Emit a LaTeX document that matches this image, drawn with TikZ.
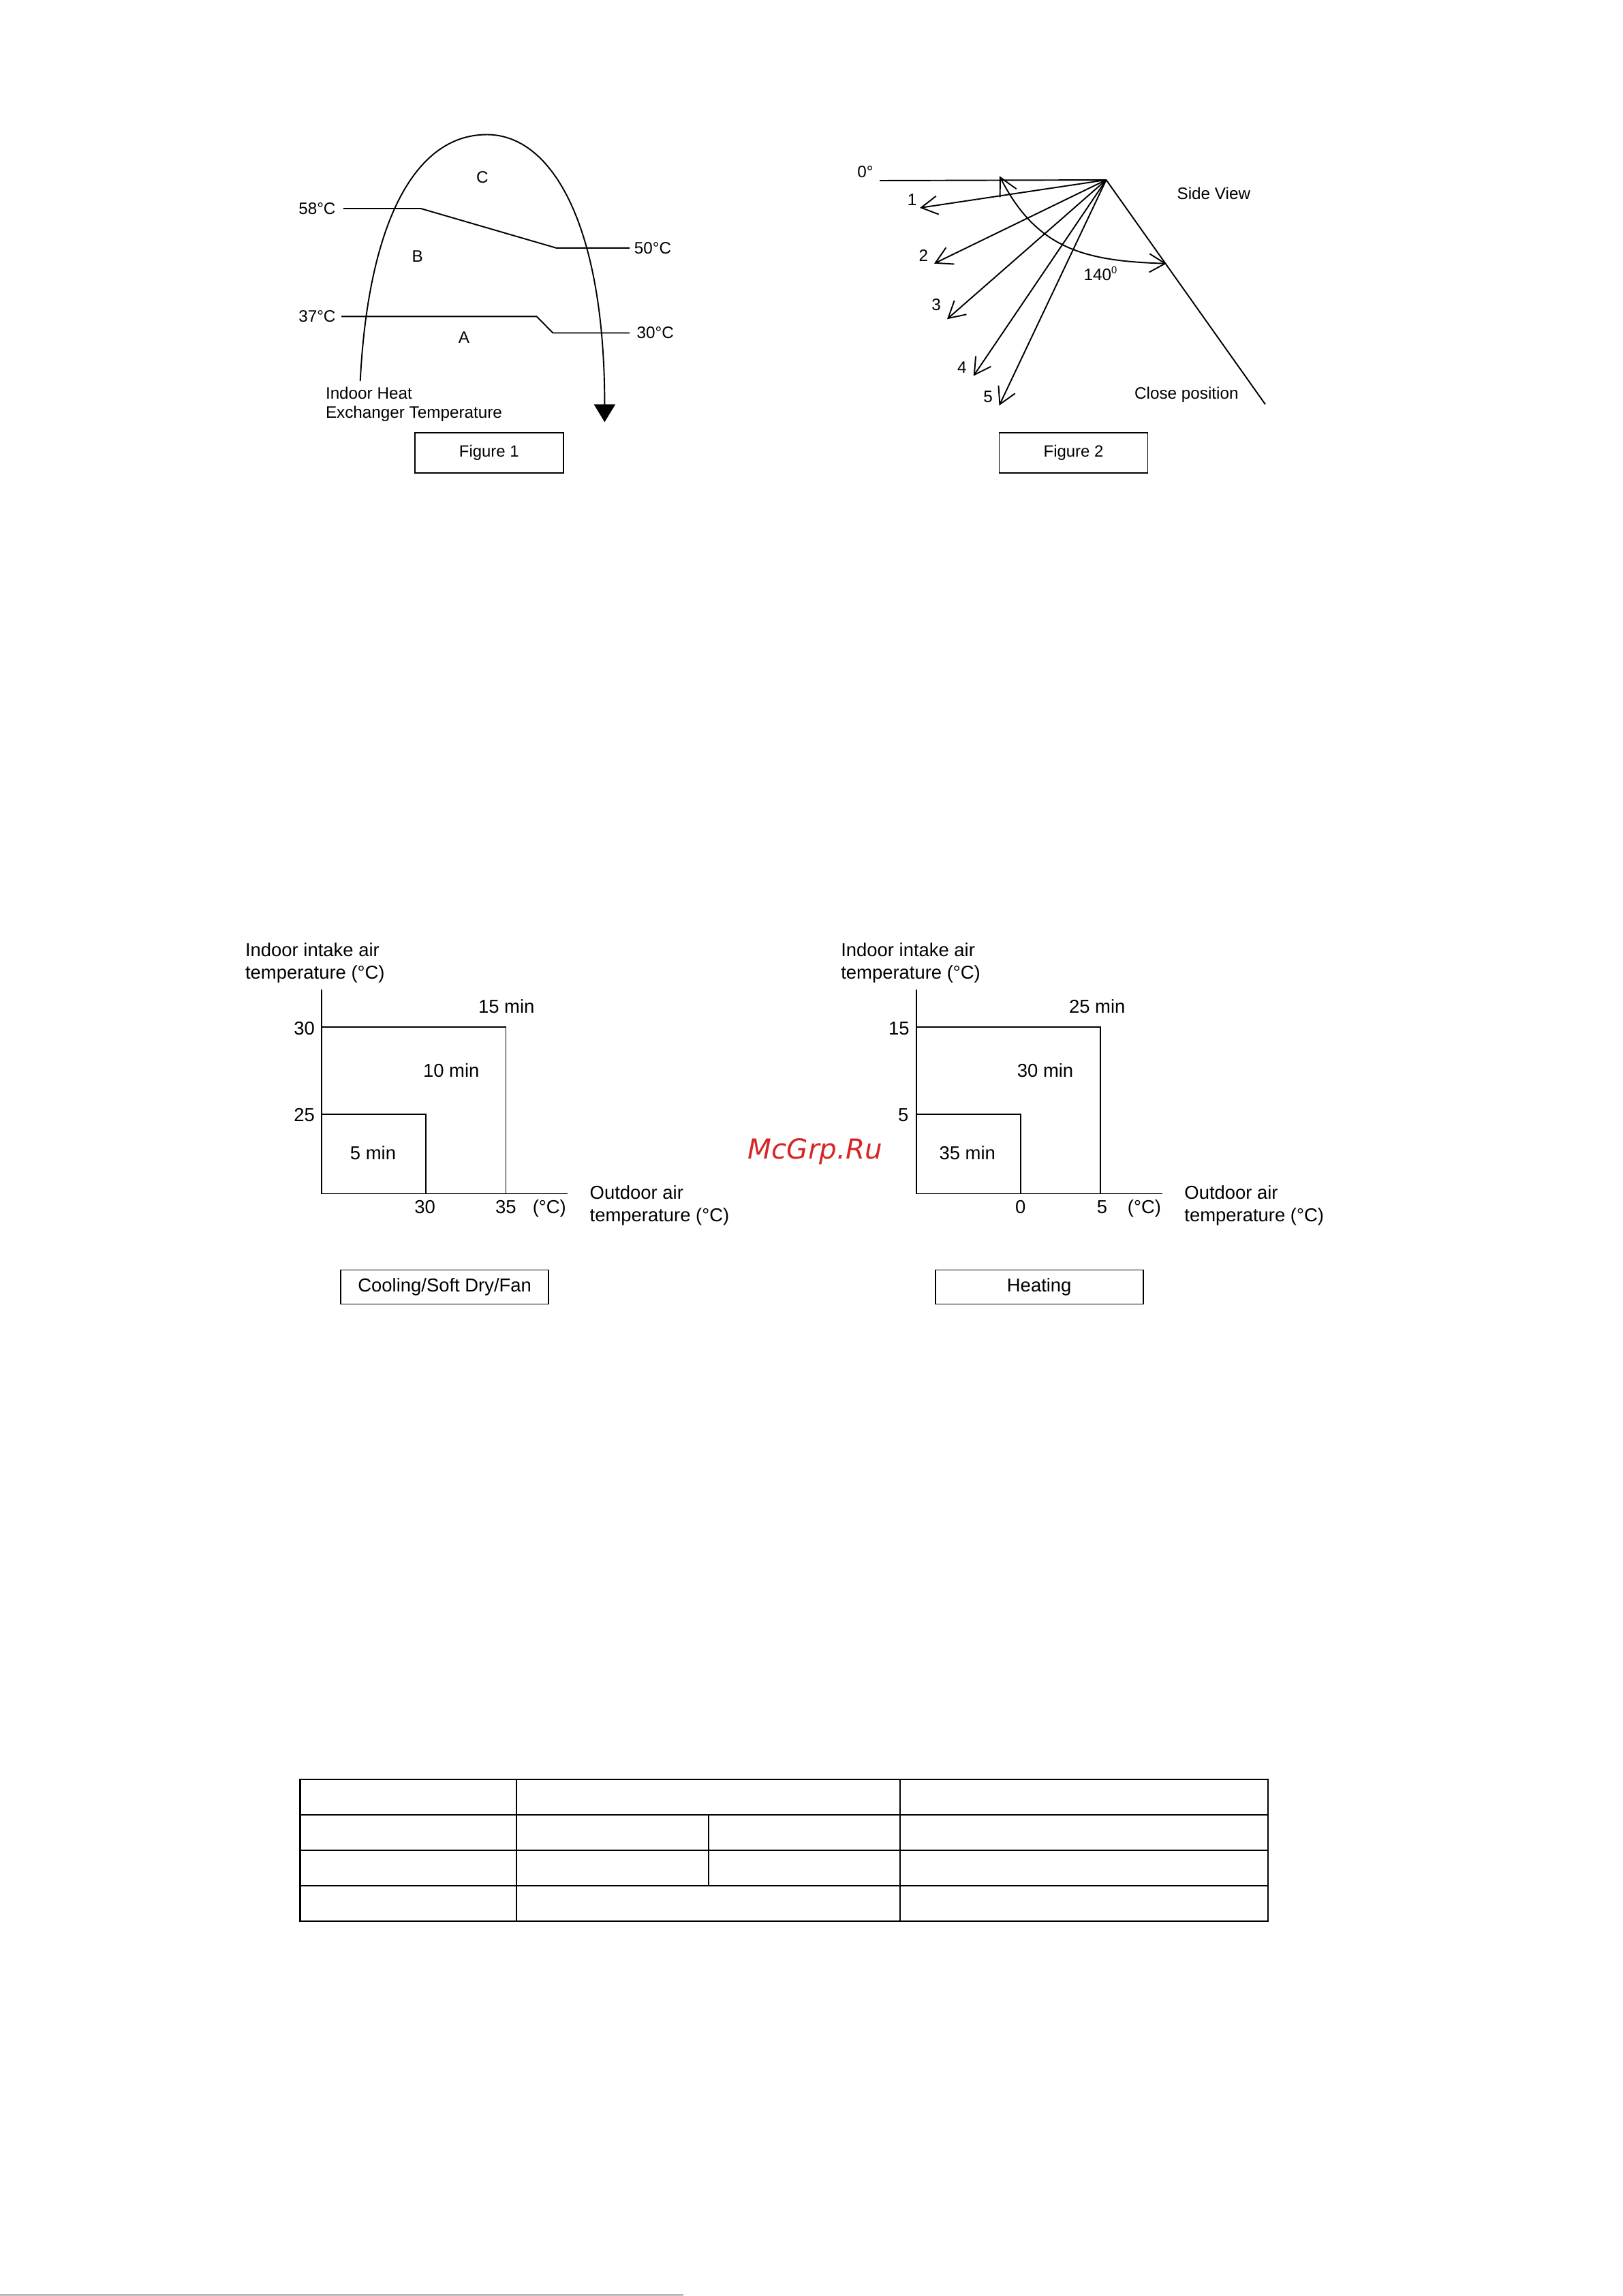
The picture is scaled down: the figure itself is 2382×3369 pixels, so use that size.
\documentclass[tikz,border=0pt]{standalone}
\usepackage{fontspec}
\setmainfont{Liberation Sans}
\newfontfamily\wmfont{DejaVu Sans}
\usetikzlibrary{arrows.meta}
\definecolor{wmred}{RGB}{214,38,38}
\begin{document}
\begin{tikzpicture}[x=0.01cm,y=-0.01cm,
  ln/.style={line width=0.55pt},
  axis/.style={line width=0.55pt},
  thin/.style={line width=0.45pt},
  tab/.style={line width=0.6pt},
  lbl/.style={inner sep=0pt, font=\fontsize{6.9}{8}\selectfont},
  clbl/.style={inner sep=0pt, font=\fontsize{7.8}{9.3}\selectfont},
  figbox/.style={draw, line width=0.5pt, inner sep=0pt, minimum width=2.18cm, minimum height=0.585cm, font=\fontsize{6.8}{8}\selectfont},
  modebox/.style={draw, line width=0.5pt, inner sep=0pt, minimum width=3.05cm, minimum height=0.5cm, font=\fontsize{7.8}{9.3}\selectfont},
  barb/.style={-{Straight Barb[length=0.24cm,width=0.27cm]}},
  dbarb/.style={{Straight Barb[length=0.26cm,width=0.27cm]}-{Straight Barb[length=0.23cm,width=0.27cm]}},
  fillarrow/.style={-{Triangle[length=0.26cm,width=0.31cm]}}]
\useasboundingbox (0,0) rectangle (2382,3369);

% ---------------- Figure 1 ----------------
\draw[ln,fillarrow] (528.7,559.1) .. controls (540,335) and (605,197.5) .. (714.6,197.5)
   .. controls (810,197.5) and (887.4,330) .. (887.4,619.4);
\draw[ln] (503.8,306) -- (617.7,306) -- (816.6,363.9) -- (924.2,363.9);
\draw[ln] (501.1,464.4) -- (787.7,464.4) -- (811.5,488.5) -- (924.2,488.5);
\node[lbl,anchor=east] (t58) at (493.2,306) {58°C};
\node[lbl,anchor=west] (t50) at (930.1,363.9) {50°C};
\node[lbl,anchor=east] (t37) at (493.2,464.4) {37°C};
\node[lbl,anchor=west] (t30) at (934,488.5) {30°C};
\node[lbl] (zC) at (707.9,260.2) {C};
\node[lbl] (zB) at (612.6,376.6) {B};
\node[lbl] (zA) at (681,495.4) {A};
\node[lbl,anchor=west,align=left] (ihx) at (477.3,593.5) {Indoor Heat\\Exchanger Temperature};
\node[figbox] (fig1) at (717.8,664.5) {Figure 1};

% ---------------- Figure 2 ----------------
\coordinate (P) at (1623.5,264);
\coordinate (z0) at (1291,265);
\coordinate (a1) at (1350,305);
\coordinate (a2) at (1371,386.7);
\coordinate (a3) at (1390,468.3);
\coordinate (a4) at (1428.7,551.7);
\coordinate (a5) at (1466.5,595);
\coordinate (cl) at (1857,593.3);
\draw[ln] (z0) -- (P);
\draw[ln] (P) -- (cl);
\foreach \t in {a1,a2,a3,a4,a5} \draw[ln,barb] (P) -- (\t);
\draw[ln,dbarb] (1467,258.3) .. controls (1521.1,365.3) and (1591.9,383.1) .. (1711.9,386.7);
\node[lbl] (d0) at (1270,251.7) {0°};
\node[lbl] (n1) at (1338.6,293.3) {1};
\node[lbl] (n2) at (1355.4,375) {2};
\node[lbl] (n3) at (1374,446.7) {3};
\node[lbl] (n4) at (1411.8,539.3) {4};
\node[lbl] (n5) at (1450,582.7) {5};
\node[lbl] (d140) at (1615,401.7) {140\raisebox{0.75ex}{\fontsize{4.2}{5}\selectfont 0}};
\node[lbl] (side) at (1781.3,284) {Side View};
\node[lbl] (close) at (1741.4,579.3) {Close position};
\node[figbox] (fig2) at (1575.5,664.5) {Figure 2};

% ---------------- Cooling chart ----------------
\draw[axis] (471.8,1451.6) -- (471.8,1751.5) -- (833,1751.5);
\draw[thin] (471.8,1507.2) -- (742.3,1507.2) -- (742.3,1751.5);
\draw[thin] (471.8,1635.2) -- (625,1635.2) -- (625,1751.5);
\node[clbl,anchor=west,align=left] (cy) at (359.4,1412.7) {Indoor intake air\\temperature (°C)};
\node[clbl] (c30y) at (446.6,1509) {30};
\node[clbl] (c25y) at (446.6,1636.3) {25};
\node[clbl] (c15m) at (743.3,1477) {15 min};
\node[clbl] (c10m) at (662.3,1570.8) {10 min};
\node[clbl] (c5m) at (547.5,1691.5) {5 min};
\node[clbl] (c30x) at (623.6,1771.5) {30};
\node[clbl] (c35x) at (742.3,1771.5) {35};
\node[clbl] (cdeg) at (806.3,1773.7) {(°C)};
\node[clbl,anchor=west,align=left] (cx) at (865,1768.6) {Outdoor air\\temperature (°C)};
\node[modebox] (cool) at (652.7,1888.4) {Cooling/Soft Dry/Fan};

% ---------------- Heating chart ----------------
\draw[axis] (1345,1451.6) -- (1345,1751.5) -- (1705.7,1751.5);
\draw[thin] (1345,1507.2) -- (1615,1507.2) -- (1615,1751.5);
\draw[thin] (1345,1635.2) -- (1497.7,1635.2) -- (1497.7,1751.5);
\node[clbl,anchor=west,align=left] (hy) at (1233.6,1412.7) {Indoor intake air\\temperature (°C)};
\node[clbl] (h15y) at (1319.4,1509) {15};
\node[clbl] (h5y) at (1325.7,1636.3) {5};
\node[clbl] (h25m) at (1610.2,1477) {25 min};
\node[clbl] (h30m) at (1534.1,1570.8) {30 min};
\node[clbl] (h35m) at (1419.7,1691.5) {35 min};
\node[clbl] (h0x) at (1497.7,1771.5) {0};
\node[clbl] (h5x) at (1617.5,1771.5) {5};
\node[clbl] (hdeg) at (1679.5,1773.7) {(°C)};
\node[clbl,anchor=west,align=left] (hx) at (1737.7,1768.6) {Outdoor air\\temperature (°C)};
\node[modebox] (heat) at (1525.2,1888.4) {Heating};

% ---------------- watermark ----------------
\node[inner sep=0pt,anchor=base west,text=wmred,font=\wmfont\itshape\fontsize{11.5}{13}\selectfont] (wm) at (1097,1700) {McGrp.Ru};

% ---------------- Table ----------------
\draw[tab] (440.5,2610.7) rectangle (1861.3,2819);
\foreach \yy in {2662.7,2714.7,2766.7} \draw[tab] (440.5,\yy) -- (1861.3,\yy);
\draw[tab] (758,2610.7) -- (758,2819);
\draw[tab] (1321.3,2610.7) -- (1321.3,2819);
\draw[tab] (1040.1,2662.7) -- (1040.1,2766.7);

% ---------------- bottom rule ----------------
\draw[line width=0.4pt] (0,3367.5) -- (1003,3367.5);
\end{tikzpicture}
\end{document}
